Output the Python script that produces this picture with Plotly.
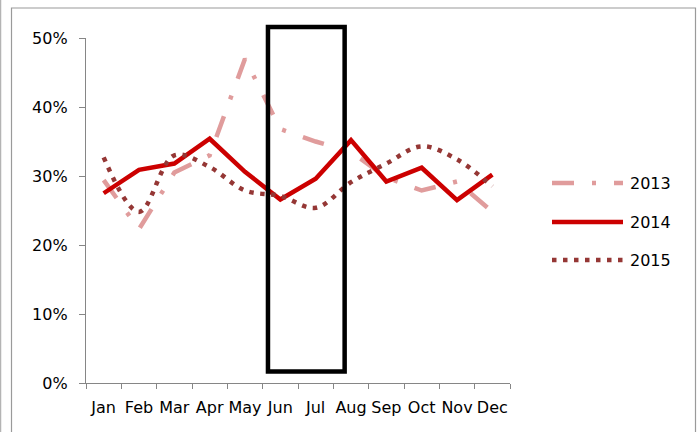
import plotly.graph_objects as go

# ---- data -------------------------------------------------------------
months = ["Jan", "Feb", "Mar", "Apr", "May", "Jun",
          "Jul", "Aug", "Sep", "Oct", "Nov", "Dec"]
rate_2013 = [0.294, 0.223, 0.305, 0.330, 0.470, 0.368,
             0.350, 0.335, 0.298, 0.279, 0.292, 0.248]
rate_2014 = [0.275, 0.309, 0.318, 0.354, 0.306, 0.266,
             0.296, 0.352, 0.292, 0.312, 0.265, 0.302]
rate_2015 = [0.327, 0.248, 0.330, 0.313, 0.279, 0.271,
             0.254, 0.291, 0.318, 0.343, 0.324, 0.285]
y_ticks = [0.0, 0.1, 0.2, 0.3, 0.4, 0.5]
highlight_months = ["Jun", "Jul"]

# ---- styles -----------------------------------------------------------
series = [
    dict(name="2013", y=rate_2013, color="#E09C9C", width=4.5,
         dash="22px,18px,4px,18px", shape="linear"),
    dict(name="2014", y=rate_2014, color="#CC0000", width=4.5,
         dash="solid", shape="linear"),
    dict(name="2015", y=rate_2015, color="#953735", width=4.5,
         dash="4.5px,6.5px", shape="spline"),
]

W, H = 698, 432
M_L, M_R, M_T, M_B = 86, 188, 38, 49
PW, PH = W - M_L - M_R, H - M_T - M_B
FONT = "DejaVu Sans"


def px_x(px):
    """page pixel -> paper x"""
    return (px - M_L) / PW


def px_y(py):
    """page pixel (from top) -> paper y"""
    return (H - M_B - py) / PH


fig = go.Figure()
for s in series:
    fig.add_trace(go.Scatter(
        x=months, y=s["y"], mode="lines", name=s["name"],
        line=dict(color=s["color"], width=s["width"], dash=s["dash"],
                  shape=s["shape"]),
        showlegend=False, hoverinfo="skip",
    ))

shapes = []
annotations = []

# outer chart frame
shapes.append(dict(type="rect", xref="paper", yref="paper",
                   x0=px_x(11.5), x1=px_x(695.5), y0=px_y(8), y1=px_y(445),
                   line=dict(color="#9a9a9a", width=1.2), layer="below"))
shapes.append(dict(type="line", xref="paper", yref="paper",
                   x0=px_x(0.5), x1=px_x(0.5), y0=px_y(0), y1=px_y(440),
                   line=dict(color="#b4b4b4", width=1.5), layer="below"))

# highlight box around the summer months
i0 = months.index(highlight_months[0])
i1 = months.index(highlight_months[-1])
shapes.append(dict(type="rect", xref="x", yref="paper",
                   x0=i0 - 0.35, x1=i1 + 0.82,
                   y0=px_y(371.5), y1=px_y(27),
                   line=dict(color="black", width=4.5), layer="above"))

# legend drawn as sample lines with labels
legend_rows = [183, 222, 260]
for s, row in zip(series, legend_rows):
    shapes.append(dict(type="line", xref="paper", yref="paper",
                       x0=px_x(552), x1=px_x(623),
                       y0=px_y(row), y1=px_y(row),
                       line=dict(color=s["color"], width=s["width"],
                                 dash=s["dash"])))
    annotations.append(dict(xref="paper", yref="paper",
                            x=px_x(628), y=px_y(row), text=s["name"],
                            showarrow=False, xanchor="left", yanchor="middle",
                            font=dict(family=FONT, size=16, color="black")))

fig.update_layout(
    width=W, height=H,
    margin=dict(l=M_L, r=M_R, t=M_T, b=M_B, pad=0),
    paper_bgcolor="white", plot_bgcolor="white",
    font=dict(family=FONT, size=16, color="black"),
    shapes=shapes, annotations=annotations,
    showlegend=False,
)
fig.update_xaxes(
    type="category", range=[-0.5, 11.5],
    showgrid=False, zeroline=False,
    showline=True, linecolor="#868686", linewidth=1.3,
    ticks="outside", tickson="boundaries", ticklen=5,
    tickcolor="#868686", tickwidth=1.3, tickangle=0,
    tickfont=dict(family=FONT, size=16, color="black"),
    ticklabelstandoff=10,
)
fig.update_yaxes(
    range=[0, 0.5], tickvals=y_ticks, tickformat=".0%",
    showgrid=False, zeroline=False,
    showline=True, linecolor="#868686", linewidth=1.3,
    ticks="outside", ticklen=6, tickcolor="#868686", tickwidth=1.3,
    tickfont=dict(family=FONT, size=16, color="black"),
    ticklabelstandoff=8,
)

fig.write_html("out.html")
